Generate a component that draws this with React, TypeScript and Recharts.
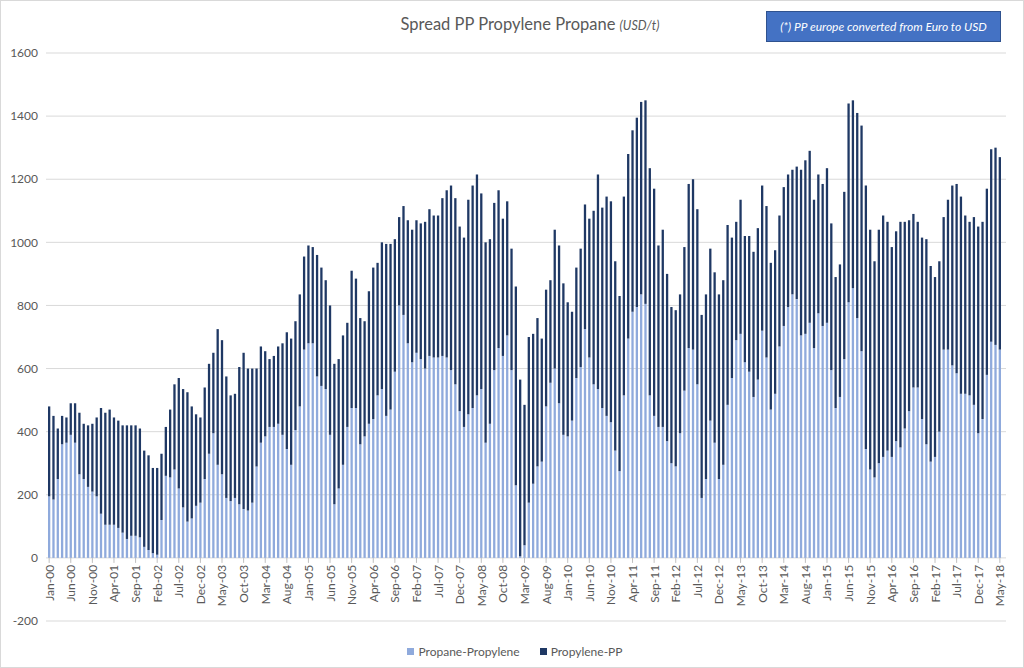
import React from "react";
import { BarChart, Bar, XAxis, YAxis, CartesianGrid, Legend } from "recharts";

// Month labels Jan-00 .. May-18
const MONTH_NAMES = ["Jan", "Feb", "Mar", "Apr", "May", "Jun", "Jul", "Aug", "Sep", "Oct", "Nov", "Dec"];
const YEAR_SUFFIXES = ["00", "01", "02", "03", "04", "05", "06", "07", "08", "09", "10", "11", "12", "13", "14", "15", "16", "17", "18"];
const MONTH_COUNT = 221;

const months: string[] = YEAR_SUFFIXES.flatMap((yy) => MONTH_NAMES.map((m) => `${m}-${yy}`)).slice(0, MONTH_COUNT);

// Propane-Propylene spread (light bars), one row per year
const propanePropylene = [
  195, 185, 250, 360, 365, 390, 365, 265, 250, 225, 210, 195,
  140, 105, 105, 105, 95, 80, 60, 70, 70, 65, 35, 25,
  15, 10, 120, 260, 255, 280, 220, 160, 115, 125, 165, 175,
  250, 330, 395, 295, 265, 190, 180, 190, 170, 155, 150, 175,
  290, 365, 385, 415, 415, 425, 390, 345, 295, 405, 480, 660,
  680, 680, 575, 545, 535, 390, 170, 220, 295, 415, 475, 475,
  360, 385, 425, 440, 515, 535, 450, 470, 590, 800, 770, 680,
  620, 650, 630, 600, 640, 635, 635, 640, 635, 595, 550, 465,
  415, 455, 475, 515, 535, 365, 425, 595, 665, 640, 705, 595,
  230, 5, 40, 175, 235, 290, 305, 480, 555, 600, 490, 390,
  385, 435, 570, 605, 725, 635, 550, 535, 475, 450, 430, 340,
  275, 515, 695, 780, 795, 835, 805, 515, 450, 415, 415, 370,
  300, 290, 395, 530, 665, 660, 550, 190, 250, 435, 365, 250,
  295, 485, 570, 690, 710, 620, 590, 510, 565, 720, 635, 470,
  520, 670, 735, 795, 835, 820, 705, 710, 745, 665, 775, 735,
  745, 595, 475, 510, 630, 810, 855, 760, 655, 345, 280, 255,
  300, 320, 340, 320, 370, 350, 410, 465, 540, 540, 440, 360,
  305, 320, 400, 660, 660, 610, 585, 520, 520, 515, 485, 395,
  440, 580, 685, 675, 660,
];

// Propylene-PP spread (dark bars), stacked on top
const propylenePP = [
  285, 265, 160, 90, 80, 100, 125, 195, 175, 195, 215, 250,
  335, 355, 365, 340, 340, 340, 360, 350, 350, 345, 305, 300,
  270, 275, 210, 155, 215, 270, 350, 375, 410, 355, 290, 270,
  290, 285, 255, 430, 425, 385, 335, 330, 435, 495, 450, 425,
  310, 305, 270, 215, 225, 245, 290, 370, 400, 345, 355, 295,
  310, 305, 385, 375, 345, 410, 445, 410, 410, 330, 435, 410,
  400, 365, 420, 480, 420, 465, 545, 525, 420, 280, 345, 390,
  420, 420, 430, 465, 465, 450, 450, 500, 530, 585, 590, 585,
  600, 680, 705, 700, 620, 635, 585, 530, 500, 435, 425, 385,
  630, 560, 445, 525, 475, 470, 390, 370, 325, 440, 500, 480,
  425, 345, 350, 375, 395, 440, 550, 680, 635, 695, 700, 600,
  555, 630, 585, 575, 600, 610, 645, 720, 720, 575, 625, 530,
  495, 495, 440, 455, 520, 540, 555, 580, 585, 545, 540, 585,
  585, 570, 445, 375, 425, 400, 430, 460, 480, 460, 480, 465,
  455, 415, 440, 420, 395, 420, 525, 550, 545, 470, 440, 450,
  490, 465, 415, 420, 530, 630, 595, 650, 715, 835, 760, 685,
  740, 765, 725, 665, 665, 715, 655, 605, 550, 525, 575, 650,
  620, 570, 540, 420, 475, 570, 600, 625, 565, 550, 595, 655,
  625, 590, 610, 625, 610,
];

const yTicks = [-200, 0, 200, 400, 600, 800, 1000, 1200, 1400, 1600];

const LIGHT = "#8FAADC";
const DARK = "#1F3864";
const TEXT = "#595959";
const GRID = "#d9d9d9";

const WIDTH = 1024;
const HEIGHT = 668;
const MARGIN = { top: 52, right: 19, left: 5, bottom: 8 };
const LEGEND_HEIGHT = 20;
const XAXIS_HEIGHT = 20;
const PLOT_BOTTOM = HEIGHT - MARGIN.bottom - LEGEND_HEIGHT - XAXIS_HEIGHT;
const Y_MIN = yTicks[0];
const Y_MAX = yTicks[yTicks.length - 1];
// category axis crosses the value axis at 0
const ZERO_Y = MARGIN.top + ((Y_MAX - 0) / (Y_MAX - Y_MIN)) * (PLOT_BOTTOM - MARGIN.top);

const data = months.map((month, i) => ({
  month,
  propanePropylene: propanePropylene[i],
  propylenePP: propylenePP[i],
}));

const MonthTick = ({ x, payload }: { x?: number; payload?: { value: string } }) => {
  if (x == null || !payload) return null;
  const ty = ZERO_Y + 7;
  return (
    <g>
      <line x1={x} x2={x} y1={ZERO_Y} y2={ZERO_Y + 5} stroke="#bfbfbf" />
      <text
        x={x}
        y={ty}
        transform={`rotate(-90, ${x}, ${ty})`}
        textAnchor="end"
        dominantBaseline="central"
        fontSize={12}
        fill={TEXT}
      >
        {payload.value}
      </text>
    </g>
  );
};

const LegendContent = () => (
  <div
    style={{
      height: LEGEND_HEIGHT,
      display: "flex",
      justifyContent: "center",
      alignItems: "center",
      gap: 20,
      paddingLeft: 18,
      fontSize: 12,
      color: TEXT,
    }}
  >
    {[
      { name: "Propane-Propylene", color: LIGHT },
      { name: "Propylene-PP", color: DARK },
    ].map((item) => (
      <span key={item.name} style={{ display: "flex", alignItems: "center" }}>
        <span style={{ width: 7, height: 7, background: item.color, marginRight: 4, display: "inline-block" }} />
        {item.name}
      </span>
    ))}
  </div>
);

export default function App() {
  return (
    <div
      style={{
        position: "absolute",
        left: 0,
        top: 0,
        width: WIDTH,
        height: HEIGHT,
        border: `1px solid ${GRID}`,
        boxSizing: "border-box",
        background: "#fff",
        fontFamily: "Lato, 'Liberation Sans', sans-serif",
        overflow: "hidden",
      }}
    >
      <div
        style={{
          position: "absolute",
          left: 0,
          width: WIDTH,
          top: 13,
          textAlign: "center",
          paddingLeft: 34,
          boxSizing: "border-box",
          color: TEXT,
          fontSize: 16.5,
        }}
      >
        Spread PP Propylene Propane <span style={{ fontSize: 12.5, fontStyle: "italic" }}>(USD/t)</span>
      </div>
      <div
        style={{
          position: "absolute",
          left: 765,
          top: 10,
          width: 235,
          height: 31,
          background: "#4472C4",
          border: "1px solid #2F528F",
          boxSizing: "border-box",
          color: "#fff",
          fontStyle: "italic",
          fontSize: 12,
          display: "flex",
          alignItems: "center",
          justifyContent: "center",
        }}
      >
        (*) PP europe converted from Euro to USD
      </div>
      <div style={{ position: "absolute", left: 0, top: 0 }}>
        <BarChart width={WIDTH} height={HEIGHT} data={data} margin={MARGIN} barSize={2.3}>
          <CartesianGrid vertical={false} stroke={GRID} />
          <XAxis
            dataKey="month"
            interval={4}
            height={XAXIS_HEIGHT}
            axisLine={false}
            tickLine={false}
            padding={{ left: 1, right: 4 }}
            tick={<MonthTick />}
          />
          <YAxis
            width={40}
            domain={[Y_MIN, Y_MAX]}
            ticks={yTicks}
            interval={0}
            axisLine={false}
            tickLine={false}
            tick={{ fontSize: 12, fill: TEXT }}
          />
          <Legend verticalAlign="bottom" height={LEGEND_HEIGHT} content={<LegendContent />} />
          <Bar dataKey="propanePropylene" name="Propane-Propylene" stackId="s" fill={LIGHT} isAnimationActive={false} />
          <Bar dataKey="propylenePP" name="Propylene-PP" stackId="s" fill={DARK} isAnimationActive={false} />
        </BarChart>
      </div>
    </div>
  );
}
